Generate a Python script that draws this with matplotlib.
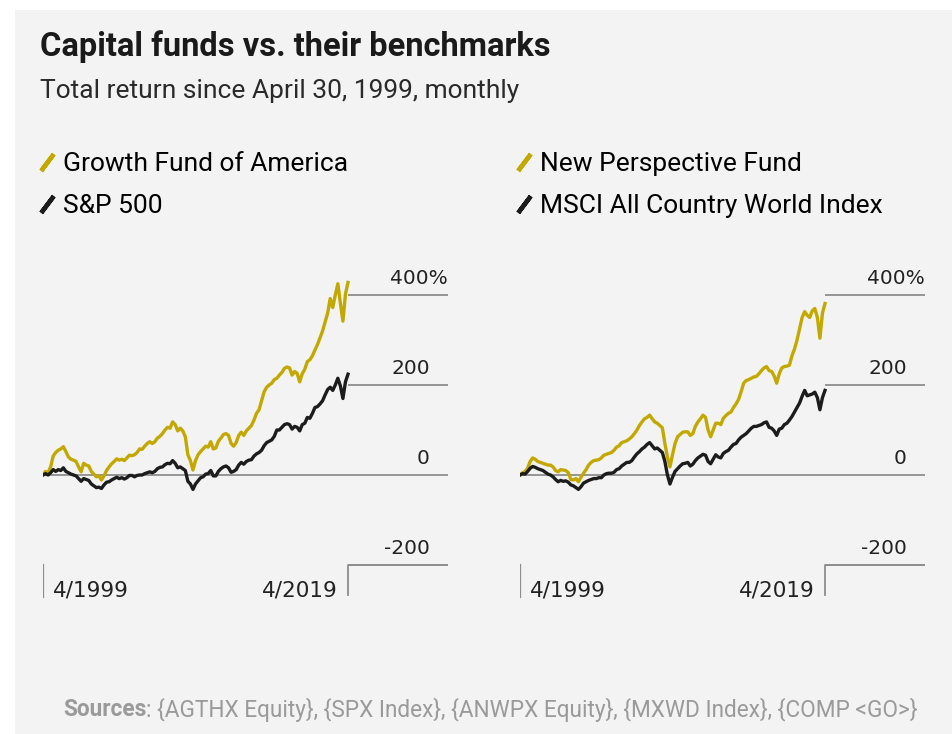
"""Capital funds vs. their benchmarks: total return since April 1999."""

import matplotlib
matplotlib.use("Agg")
import matplotlib.pyplot as plt
from matplotlib.lines import Line2D
from matplotlib.patches import Rectangle

W, H = 953, 734

# bimonthly observations, months since 4/1999
months = list(range(0, 241, 2))

growth_fund = [
    0, 8, 5, 18, 42, 50,
    55, 58, 63, 52, 40, 35,
    33, 30, 18, 7, 26, 22,
    20, 8, 2, -4, -2, -11,
    -2, 10, 18, 25, 30, 36,
    33, 35, 32, 38, 44, 43,
    45, 50, 58, 57, 64, 70,
    74, 70, 74, 82, 86, 92,
    100, 106, 104, 118, 112, 98,
    104, 98, 85, 45, 32, 11,
    32, 45, 52, 58, 64, 62,
    74, 58, 60, 75, 82, 90,
    92, 88, 70, 64, 72, 88,
    95, 88, 98, 104, 110, 122,
    137, 145, 165, 185, 195, 200,
    204, 212, 215, 222, 228, 237,
    240, 238, 222, 230, 226, 207,
    225, 235, 252, 256, 265, 278,
    290, 305, 320, 340, 360, 392,
    372, 400, 425, 382, 342, 402,
    428,
]
sp500 = [
    0, 3, 0, 5, 12, 8,
    12, 10, 16, 8, 5, 2,
    0, -2, -8, -14, -8, -10,
    -12, -20, -24, -28, -27, -30,
    -22, -16, -15, -11, -8, -5,
    -8, -6, -9, -6, -1, -1,
    -4, -1, 0, 0, 3, 5,
    7, 5, 8, 14, 17, 18,
    23, 26, 25, 32, 26, 16,
    18, 14, 10, -14, -20, -32,
    -20, -13, -6, -4, 2, 3,
    10, -2, -2, 8, 14, 18,
    20, 16, 6, 8, 12, 22,
    28, 24, 30, 33, 34, 42,
    47, 50, 55, 65, 72, 75,
    78, 86, 100, 100, 106, 112,
    114, 112, 102, 108, 106, 98,
    112, 115, 128, 126, 137, 150,
    152, 158, 165, 178, 190, 195,
    188, 200, 215, 198, 170, 207,
    224,
]
new_perspective = [
    0, 5, 8, 15, 30, 38,
    35, 30, 28, 26, 24, 22,
    22, 18, 10, 7, 12, 11,
    10, 5, -10, -11, -8, -15,
    -5, 4, 12, 22, 28, 32,
    33, 34, 38, 44, 46, 48,
    50, 55, 62, 65, 72, 74,
    76, 80, 85, 92, 100, 110,
    118, 125, 128, 133, 125, 118,
    115, 110, 105, 70, 40, 18,
    45, 70, 85, 90, 95, 96,
    96, 88, 92, 108, 118, 125,
    133, 128, 100, 85, 100, 115,
    115, 112, 126, 132, 137, 140,
    150, 158, 168, 185, 204, 210,
    212, 215, 218, 219, 225, 232,
    238, 241, 232, 230, 220, 204,
    225, 238, 241, 242, 244, 265,
    280, 300, 325, 350, 363, 355,
    350, 365, 370, 350, 304, 360,
    381,
]
msci_acwi = [
    0, 3, 2, 8, 15, 19,
    17, 14, 12, 10, 6, 2,
    0, -4, -10, -15, -12, -14,
    -13, -16, -22, -24, -28, -32,
    -26, -18, -15, -12, -10, -8,
    -8, -6, -6, 0, 3, 4,
    4, 6, 12, 14, 20, 24,
    28, 28, 32, 40, 47, 52,
    58, 62, 68, 72, 65, 58,
    60, 55, 50, 30, 0, -20,
    -5, 8, 14, 20, 25, 26,
    28, 20, 24, 32, 38, 42,
    46, 44, 30, 25, 35, 45,
    40, 38, 48, 52, 55, 62,
    68, 70, 78, 84, 88, 92,
    98, 104, 108, 108, 110, 112,
    116, 118, 106, 104, 98, 88,
    102, 104, 112, 115, 122, 130,
    140, 150, 160, 175, 188, 176,
    178, 180, 184, 172, 145, 172,
    188,
]

panels = [
    ("Growth Fund of America", growth_fund, "S&P 500", sp500),
    ("New Perspective Fund", new_perspective,
     "MSCI All Country World Index", msci_acwi),
]
y_ticks = [400, 200, 0, -200]
date_labels = ["4/1999", "4/2019"]
source_text = (": {AGTHX Equity}, {SPX Index}, {ANWPX Equity}, "
               "{MXWD Index}, {COMP <GO>}")

GOLD = "#c3a800"
BLACK = "#1c1c1c"
GRID = "#8e8e8e"
PANEL = "#f3f3f3"
COND = ["Roboto", "DejaVu Sans"]
TICK = ["DejaVu Sans"]


def fx(px):
    return px / W


def fy(py):
    return 1 - py / H


fig = plt.figure(figsize=(W / 100, H / 100), dpi=100)
fig.patch.set_facecolor("white")
fig.add_artist(Rectangle((fx(15), 0), 1 - fx(15), fy(10), transform=fig.transFigure,
                         facecolor=PANEL, edgecolor="none", zorder=0))

fig.text(fx(40), fy(47), "Capital funds vs. their benchmarks", family=COND,
         fontsize=23.5, fontweight="bold", color="#1a1a1a", va="center")
fig.text(fx(40), fy(91), "Total return since April 30, 1999, monthly", family=COND,
         fontsize=19, color="#2a2a2a", va="center")

# axes boxes: zero line at y=475 px, 90 px per 200 points
last = months[-1]
xmax = last * 405 / 305
axes = []
for i, (fund_name, fund, bench_name, bench) in enumerate(panels):
    left = 43 if i == 0 else 520
    ax = fig.add_axes([fx(left), fy(600), fx(405), 350 / H])
    ax.set_xlim(0, xmax)
    ax.set_ylim((475 - 600) / 0.45, (475 - 250) / 0.45)
    ax.axis("off")
    axes.append(ax)

    for val in y_ticks:
        start = 0 if val == 0 else last
        ax.plot([start, xmax], [val, val], color=GRID, lw=1.3, zorder=1,
                solid_capstyle="butt")
        label = f"{val}%" if val == y_ticks[0] else str(val)
        dx = 0 if val == y_ticks[0] else -18
        ax.annotate(label, xy=(xmax, val), xytext=(dx, 11),
                    textcoords="offset pixels", ha="right", va="baseline",
                    family=TICK, fontsize=14.5, color="#222222")
    bottom = -271
    ax.plot([0, 0], [-200, bottom], color=GRID, lw=1.6, zorder=1)
    ax.plot([last, last, xmax], [bottom + 4, -200, -200], color=GRID, lw=1.3,
            zorder=1)
    ax.annotate(date_labels[0], xy=(0, bottom), xytext=(10, 0),
                textcoords="offset pixels", ha="left", va="baseline",
                family=TICK, fontsize=15.5, color="#222222")
    ax.annotate(date_labels[1], xy=(last, bottom), xytext=(-10, 0),
                textcoords="offset pixels", ha="right", va="baseline",
                family=TICK, fontsize=15.5, color="#222222")

    ax.plot(months, bench, color=BLACK, lw=2.4, zorder=3)
    ax.plot(months, fund, color=GOLD, lw=2.4, zorder=2)

    handles = [
        Line2D([], [], ls="none", marker=(2, 2, -37), markersize=15,
               markeredgewidth=3.2, color=GOLD),
        Line2D([], [], ls="none", marker=(2, 2, -37), markersize=15,
               markeredgewidth=3.2, color=BLACK),
    ]
    ax.legend(handles, [fund_name, bench_name], loc="upper left",
              bbox_to_anchor=(fx(left - 5), fy(152)),
              bbox_transform=fig.transFigure, frameon=False,
              handlelength=0.7, handletextpad=0.25, labelspacing=0.68,
              borderpad=0, borderaxespad=0,
              prop={"family": COND, "size": 19})

src = fig.text(fx(63), fy(710), "Sources", family=COND, fontsize=16.3,
               fontweight="bold", color="#9a9a9a", va="center")
axes[0].annotate(source_text, xy=(1, 0), xycoords=src, ha="left", va="bottom",
                 family=COND, fontsize=16.3, color="#9a9a9a",
                 annotation_clip=False)

fig.savefig("out.png", dpi=100, facecolor=fig.get_facecolor())
